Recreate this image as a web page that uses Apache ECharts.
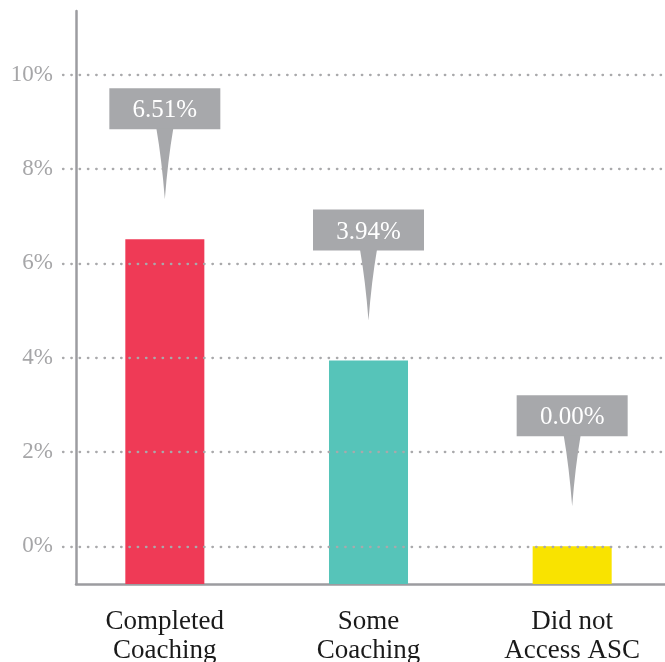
<!DOCTYPE html>
<html>
<head>
<meta charset="utf-8">
<script src="https://cdn.jsdelivr.net/npm/echarts@6/dist/echarts.min.js"></script>
<style>
  html, body { margin: 0; padding: 0; background: #ffffff; }
  #chart { width: 665px; height: 662px; }
</style>
</head>
<body>
<div id="chart"></div>
<script>
// Share of students per coaching group
const categories = ['Completed\nCoaching', 'Some\nCoaching', 'Did not\nAccess ASC'];
const shares = [6.51, 3.94, 0.00];
const barColors = ['#ef3a56', '#56c4b9', '#f9e300'];
const gridTicks = [0, 2, 4, 6, 8, 10];

const yMin = -0.8;
const yMax = 11.35;
const serif = '"Liberation Serif", "DejaVu Serif", serif';
const axisGray = '#9c9ca0';
const calloutGray = '#a7a8ab';

const chart = echarts.init(document.getElementById('chart'), null, { renderer: 'canvas' });

// Bars rise from the floor of the value axis up to their value
function renderBar(params, api) {
  const i = api.value(0);
  const v = api.value(1);
  const top = api.coord([i, v]);
  const floor = api.coord([i, yMin]);
  const w = api.size([1, 0])[0] * 0.388;
  return {
    type: 'rect',
    shape: { x: top[0] - w / 2, y: top[1], width: w, height: floor[1] - top[1] },
    style: { fill: barColors[i] }
  };
}

// Speech-bubble callout pointing down at each bar
function renderCallout(params, api) {
  const i = api.value(0);
  const v = api.value(1);
  const p = api.coord([i, v]);
  const tipY = p[1] - 40;
  const tailLen = 70;
  const boxH = 41, boxW = 111;
  const boxBottom = tipY - tailLen;
  return {
    type: 'group',
    children: [
      {
        type: 'rect',
        shape: { x: p[0] - boxW / 2, y: boxBottom - boxH, width: boxW, height: boxH },
        style: { fill: calloutGray }
      },
      {
        type: 'path',
        x: p[0],
        y: boxBottom - 1,
        shape: {
          pathData: 'M -8.5 0 Q -3 32 0 ' + (tailLen + 1) + ' Q 3 32 8.5 0 Z'
        },
        style: { fill: calloutGray }
      },
      {
        type: 'text',
        x: p[0],
        y: boxBottom - boxH / 2 + 2,
        style: {
          text: v.toFixed(2) + '%',
          fill: '#ffffff',
          font: '25px ' + serif,
          align: 'center',
          verticalAlign: 'middle'
        }
      }
    ]
  };
}

const seriesData = shares.map((v, i) => [i, v]);

const option = {
  animation: false,
  backgroundColor: '#ffffff',
  grid: [
    { left: 63, width: 611, top: 11, bottom: 78, outerBoundsMode: 'none', containLabel: false },
    { left: 76, right: 0, top: 11, bottom: 78, outerBoundsMode: 'none', containLabel: false }
  ],
  xAxis: [
    {
      type: 'category',
      gridIndex: 0,
      data: categories,
      axisLine: { show: false },
      axisTick: { show: false },
      splitLine: { show: false },
      axisLabel: {
        color: '#1a1a1a',
        fontFamily: serif,
        fontSize: 27,
        lineHeight: 29,
        margin: 23,
        interval: 0
      }
    },
    {
      type: 'value',
      gridIndex: 1,
      min: 0,
      max: 1,
      axisLine: { show: true, onZero: false, lineStyle: { color: axisGray, width: 2.5 } },
      axisTick: { show: false },
      axisLabel: { show: false },
      splitLine: { show: false }
    }
  ],
  yAxis: [
    {
      type: 'value',
      gridIndex: 0,
      min: yMin,
      max: yMax,
      axisLine: { show: false },
      axisTick: { show: false },
      axisLabel: { show: false },
      splitLine: { show: false }
    },
    {
      type: 'value',
      gridIndex: 1,
      min: 0,
      max: 1,
      axisLine: { show: true, onZero: false, lineStyle: { color: axisGray, width: 2.5 } },
      axisTick: { show: false },
      axisLabel: { show: false },
      splitLine: { show: false }
    }
  ],
  series: [
    {
      // dotted guide lines with their percentage labels
      type: 'line',
      xAxisIndex: 0,
      yAxisIndex: 0,
      data: [],
      z: 1,
      silent: true,
      markLine: {
        silent: true,
        symbol: ['none', 'none'],
        animation: false,
        lineStyle: { color: '#a9a9ab', width: 2.3, type: [0.5, 7.8], cap: 'round' },
        label: {
          position: 'start',
          distance: 10,
          color: '#a6a6a8',
          fontFamily: serif,
          fontSize: 23,
          formatter: (p) => p.value + '%'
        },
        emphasis: { disabled: true },
        data: gridTicks.map((t) => ({ yAxis: t }))
      }
    },
    {
      type: 'custom',
      xAxisIndex: 0,
      yAxisIndex: 0,
      z: 3,
      silent: true,
      renderItem: renderBar,
      data: seriesData
    },
    {
      type: 'custom',
      xAxisIndex: 0,
      yAxisIndex: 0,
      z: 4,
      silent: true,
      renderItem: renderCallout,
      data: seriesData
    }
  ]
};

chart.setOption(option);
</script>
</body>
</html>
